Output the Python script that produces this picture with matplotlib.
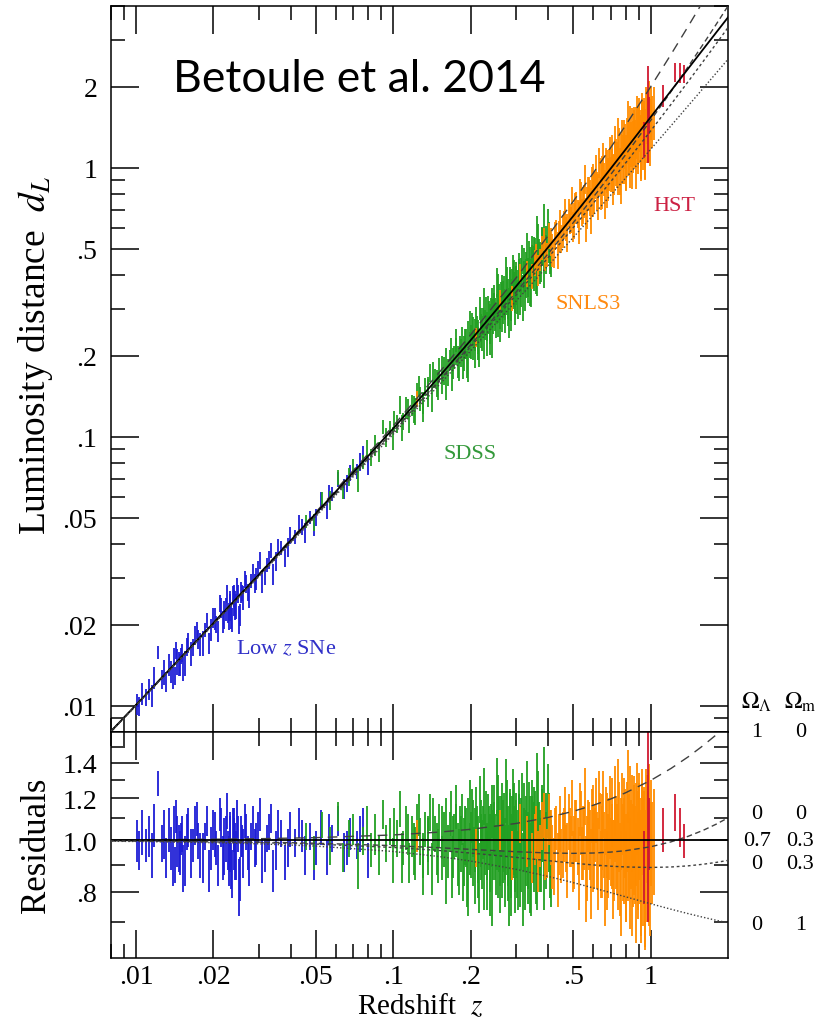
import numpy as np
import matplotlib.pyplot as plt
from matplotlib.ticker import FixedLocator, LogLocator, FuncFormatter, NullFormatter

plt.rcParams['font.family'] = ['Liberation Serif', 'DejaVu Serif']
plt.rcParams['mathtext.fontset'] = 'stix'

# model curves: luminosity distance (units of c/H0) for each (Omega_Lambda, Omega_m)
z_model = [0.008, 0.01, 0.02, 0.03, 0.05, 0.1, 0.15, 0.2, 0.3, 0.4, 0.5, 0.6, 0.7, 0.8,
           1.0, 1.2, 1.4, 1.6, 1.8, 2.0]
dl_lcdm = [0.008050, 0.010077, 0.020308, 0.030690, 0.051904, 0.107478, 0.166522, 0.228841,
           0.362552, 0.507191, 0.661478, 0.824283, 0.994619, 1.171633, 1.542854, 1.933232,
           2.339282, 2.758405, 3.188626, 3.628416]            # 0.7 0.3
dl_desitter = [0.008064, 0.0101, 0.0204, 0.0309, 0.0525, 0.11, 0.1725, 0.24, 0.39, 0.56,
               0.75, 0.96, 1.19, 1.44, 2.0, 2.64, 3.36, 4.16, 5.04, 6.0]   # 1 0
dl_milne = [0.008032, 0.01005, 0.0202, 0.03045, 0.05125, 0.105, 0.16125, 0.22, 0.345, 0.48,
            0.625, 0.78, 0.945, 1.12, 1.5, 1.92, 2.38, 2.88, 3.42, 4.0]     # 0 0
dl_open = [0.008027, 0.010042, 0.020170, 0.030381, 0.051055, 0.104187, 0.159353, 0.216508,
           0.336620, 0.464203, 0.598958, 0.740607, 0.888889, 1.043558, 1.371150, 1.721697,
           2.093693, 2.485794, 2.896789, 3.325580]          # 0 0.3
dl_eds = [0.008016, 0.010025, 0.020099, 0.030222, 0.050610, 0.102382, 0.155239, 0.209110,
          0.319649, 0.433568, 0.550510, 0.670178, 0.792319, 0.916718, 1.171573, 1.433521,
          1.701613, 1.975097, 2.253360, 2.535898]           # 0 1

# supernovae: redshift, residual (d_L relative to the 0.7/0.3 model), error
lowz_z = [0.0101, 0.0103, 0.0106, 0.0109, 0.0112, 0.0122, 0.0131, 0.0134, 0.0137, 0.0140,
          0.0142, 0.0145, 0.0148, 0.0151, 0.0155, 0.0160, 0.0166, 0.0172, 0.0178, 0.0185,
          0.0192, 0.0199, 0.0205, 0.0212, 0.0218, 0.0223, 0.0227, 0.0231, 0.0234, 0.0238,
          0.0241, 0.0245, 0.0249, 0.0253, 0.0258, 0.0265, 0.0272, 0.0280, 0.0289, 0.0298,
          0.0310, 0.0322, 0.0335, 0.0350, 0.0365, 0.0380, 0.0398, 0.0415, 0.0432, 0.0452,
          0.0475, 0.0500, 0.0525, 0.0552, 0.0580, 0.0610, 0.0645, 0.0680, 0.0720, 0.0760,
          0.0800,
          0.0115, 0.0118, 0.0126, 0.0129, 0.0139, 0.0143, 0.0147, 0.0150, 0.0153, 0.0158,
          0.0163, 0.0169, 0.0175, 0.0182, 0.0188, 0.0195, 0.0202, 0.0208, 0.0215, 0.0220,
          0.0225, 0.0229, 0.0233, 0.0236, 0.0240, 0.0243, 0.0247, 0.0251, 0.0255, 0.0261,
          0.0268, 0.0276, 0.0285, 0.0294, 0.0304, 0.0316, 0.0328, 0.0342, 0.0357, 0.0390,
          0.0440, 0.0490, 0.0565, 0.0660, 0.0740]
lowz_res = [1.00, 0.96, 1.04, 0.98, 1.02, 1.28, 0.93, 1.05, 0.97, 1.08,
            0.90, 1.00, 0.95, 1.03, 0.92, 1.06, 0.98, 1.10, 0.94, 1.02,
            0.88, 1.05, 0.97, 1.12, 0.93, 1.01, 0.96, 1.04, 0.90, 1.07,
            0.99, 0.94, 1.03, 0.85, 1.00, 1.09, 0.95, 1.02, 0.97, 1.06,
            0.92, 1.01, 1.10, 0.96, 1.03, 0.91, 1.05, 0.99, 1.08, 0.94,
            1.02, 0.97, 1.06, 0.93, 1.01, 1.09, 0.95, 1.03, 0.98, 1.07,
            0.92,
            0.94, 1.07, 0.99, 1.03, 0.91, 1.11, 0.97, 1.01, 0.89, 1.04,
            0.95, 1.07, 1.00, 0.93, 1.09, 0.97, 1.03, 0.90, 1.06, 0.98,
            1.14, 0.92, 1.00, 0.87, 1.05, 0.96, 1.10, 0.82, 1.02, 0.95,
            1.04, 0.91, 1.08, 0.99, 1.12, 0.94, 1.04, 0.88, 1.07, 0.97,
            1.02, 0.92, 1.05, 0.97, 1.03]
lowz_err = [0.09, 0.08, 0.10, 0.07, 0.09, 0.07, 0.08, 0.10, 0.09, 0.08,
            0.07, 0.11, 0.09, 0.08, 0.10, 0.09, 0.07, 0.08, 0.09, 0.06,
            0.08, 0.09, 0.07, 0.08, 0.09, 0.10, 0.08, 0.07, 0.09, 0.08,
            0.11, 0.10, 0.08, 0.08, 0.07, 0.08, 0.07, 0.06, 0.08, 0.07,
            0.09, 0.06, 0.07, 0.08, 0.06, 0.07, 0.08, 0.06, 0.07, 0.08,
            0.06, 0.07, 0.08, 0.07, 0.06, 0.07, 0.08, 0.07, 0.06, 0.08,
            0.07,
            0.09, 0.10, 0.08, 0.11, 0.09, 0.08, 0.10, 0.07, 0.09, 0.08,
            0.10, 0.09, 0.08, 0.10, 0.07, 0.09, 0.10, 0.08, 0.09, 0.12,
            0.09, 0.10, 0.13, 0.09, 0.10, 0.12, 0.09, 0.10, 0.09, 0.10,
            0.08, 0.09, 0.08, 0.09, 0.08, 0.07, 0.08, 0.08, 0.07, 0.08,
            0.07, 0.08, 0.07, 0.07, 0.08]

sdss_z = [0.046, 0.049, 0.053, 0.057, 0.061, 0.064, 0.067, 0.070, 0.073, 0.076,
          0.079, 0.082, 0.085, 0.088, 0.091, 0.094, 0.097, 0.100, 0.103, 0.106,
          0.109, 0.112, 0.115, 0.118, 0.121, 0.124, 0.127, 0.130, 0.133, 0.136,
          0.139, 0.142, 0.145, 0.148, 0.151, 0.154, 0.157, 0.160, 0.163, 0.166,
          0.169, 0.172, 0.175, 0.178, 0.181, 0.184, 0.187, 0.190, 0.193, 0.196,
          0.199, 0.202, 0.205, 0.208, 0.211, 0.214, 0.217, 0.220, 0.223, 0.226,
          0.229, 0.232, 0.235, 0.238, 0.241, 0.244, 0.247, 0.250, 0.253, 0.256,
          0.259, 0.262, 0.265, 0.268, 0.271, 0.274, 0.277, 0.280, 0.283, 0.286,
          0.289, 0.292, 0.295, 0.298, 0.301, 0.305, 0.309, 0.313, 0.317, 0.321,
          0.325, 0.329, 0.333, 0.337, 0.341, 0.345, 0.349, 0.353, 0.358, 0.363,
          0.368, 0.374, 0.380, 0.387, 0.394, 0.402, 0.410,
          0.101, 0.108, 0.114, 0.120, 0.126, 0.131, 0.137, 0.143, 0.149, 0.155,
          0.161, 0.167, 0.171, 0.176, 0.180, 0.185, 0.189, 0.192, 0.195, 0.198,
          0.201, 0.204, 0.207, 0.210, 0.213, 0.216, 0.219, 0.222, 0.225, 0.228,
          0.231, 0.234, 0.237, 0.240, 0.243, 0.246, 0.249, 0.252, 0.255, 0.258,
          0.261, 0.264, 0.267, 0.270, 0.273, 0.276, 0.279, 0.282, 0.285, 0.288,
          0.291, 0.294, 0.297, 0.300, 0.303, 0.307, 0.311, 0.315, 0.319, 0.323,
          0.327, 0.331, 0.335, 0.339, 0.343, 0.347, 0.351, 0.356, 0.361, 0.366,
          0.371, 0.377, 0.384, 0.391, 0.398, 0.406]
sdss_res = [1.02, 0.95, 1.07, 0.98, 1.11, 0.93, 1.01, 1.05, 0.90, 1.00,
            1.08, 0.96, 1.03, 0.94, 1.12, 0.99, 1.04, 0.92, 1.01, 1.15,
            0.97, 1.06, 0.91, 1.02, 0.95, 1.09, 1.00, 0.94, 1.05, 0.98,
            1.13, 0.89, 1.03, 0.97, 1.07, 0.93, 1.01, 1.10, 0.96, 1.04,
            0.90, 1.02, 1.16, 0.95, 1.06, 0.99, 0.88, 1.03, 0.85, 1.08,
            0.97, 1.12, 0.94, 1.01, 1.05, 0.91, 1.20, 0.98, 1.04, 0.87,
            1.09, 0.96, 1.02, 0.83, 1.14, 0.99, 1.06, 0.93, 1.01, 1.18,
            0.95, 1.07, 0.90, 1.03, 0.97, 1.25, 1.00, 0.92, 1.10, 0.86,
            1.05, 0.98, 1.13, 0.94, 1.02, 0.89, 1.08, 0.96, 1.19, 1.01,
            0.91, 1.06, 0.97, 1.15, 0.88, 1.04, 0.99, 1.11, 0.93, 1.28,
            1.02, 0.95, 1.08, 1.30, 0.97, 1.05, 0.92,
            1.06, 0.93, 1.03, 0.97, 1.12, 0.90, 1.01, 1.08, 0.94, 1.04,
            0.88, 1.13, 0.98, 1.05, 0.92, 1.10, 0.96, 1.02, 0.84, 1.17,
            0.99, 1.06, 0.91, 1.13, 0.97, 0.86, 1.04, 0.95, 1.22, 0.99,
            0.89, 1.08, 0.96, 1.03, 0.82, 1.11, 0.98, 1.27, 0.93, 1.04,
            0.88, 1.12, 0.97, 1.06, 0.91, 1.15, 0.99, 0.84, 1.09, 0.95,
            1.20, 1.01, 0.90, 1.07, 0.96, 1.14, 0.92, 1.04, 0.86, 1.10,
            0.98, 1.24, 0.94, 1.05, 0.90, 1.13, 0.99, 1.07, 0.92, 1.16,
            0.97, 1.09, 0.93, 1.05, 1.20, 0.96]
sdss_err = [0.06, 0.07, 0.06, 0.08, 0.07, 0.06, 0.08, 0.07, 0.09, 0.06,
            0.08, 0.07, 0.09, 0.08, 0.07, 0.08, 0.06, 0.09, 0.08, 0.09,
            0.07, 0.10, 0.08, 0.09, 0.11, 0.08, 0.10, 0.09, 0.08, 0.12,
            0.09, 0.10, 0.08, 0.11, 0.10, 0.09, 0.12, 0.10, 0.11, 0.09,
            0.12, 0.10, 0.11, 0.13, 0.10, 0.12, 0.11, 0.13, 0.10, 0.12,
            0.11, 0.13, 0.12, 0.14, 0.11, 0.13, 0.12, 0.14, 0.12, 0.13,
            0.15, 0.12, 0.14, 0.11, 0.13, 0.15, 0.12, 0.14, 0.13, 0.15,
            0.13, 0.14, 0.12, 0.16, 0.13, 0.17, 0.14, 0.15, 0.13, 0.14,
            0.16, 0.13, 0.15, 0.14, 0.17, 0.15, 0.14, 0.16, 0.15, 0.14,
            0.17, 0.15, 0.16, 0.14, 0.15, 0.17, 0.16, 0.15, 0.17, 0.18,
            0.16, 0.15, 0.17, 0.20, 0.16, 0.18, 0.17,
            0.09, 0.10, 0.09, 0.11, 0.10, 0.11, 0.10, 0.12, 0.11, 0.12,
            0.12, 0.11, 0.13, 0.12, 0.13, 0.12, 0.14, 0.13, 0.12, 0.13,
            0.14, 0.13, 0.15, 0.13, 0.14, 0.13, 0.15, 0.14, 0.15, 0.13,
            0.15, 0.14, 0.16, 0.14, 0.13, 0.16, 0.14, 0.16, 0.15, 0.17,
            0.15, 0.16, 0.14, 0.17, 0.16, 0.15, 0.17, 0.15, 0.16, 0.17,
            0.16, 0.15, 0.17, 0.16, 0.18, 0.16, 0.17, 0.16, 0.17, 0.18,
            0.16, 0.17, 0.18, 0.16, 0.18, 0.17, 0.19, 0.17, 0.18, 0.19,
            0.17, 0.18, 0.19, 0.18, 0.19, 0.18]

snls_z = [0.124, 0.21, 0.26, 0.29, 0.31, 0.33, 0.345, 0.36, 0.372, 0.385,
          0.397, 0.41, 0.42, 0.43, 0.44, 0.45, 0.46, 0.47, 0.48, 0.49,
          0.50, 0.51, 0.52, 0.53, 0.54, 0.55, 0.56, 0.57, 0.58, 0.59,
          0.60, 0.61, 0.62, 0.63, 0.64, 0.65, 0.66, 0.67, 0.68, 0.69,
          0.70, 0.71, 0.72, 0.73, 0.74, 0.75, 0.76, 0.77, 0.78, 0.79,
          0.80, 0.81, 0.82, 0.83, 0.84, 0.85, 0.86, 0.87, 0.88, 0.89,
          0.90, 0.91, 0.92, 0.93, 0.94, 0.95, 0.96, 0.97, 0.98, 0.99,
          1.00, 1.01, 1.03,
          0.355, 0.365, 0.378, 0.39, 0.403, 0.415, 0.425, 0.435, 0.445, 0.455,
          0.465, 0.475, 0.485, 0.495, 0.505, 0.515, 0.525, 0.535, 0.545, 0.555,
          0.565, 0.575, 0.585, 0.595, 0.605, 0.615, 0.625, 0.635, 0.645, 0.655,
          0.665, 0.675, 0.685, 0.695, 0.705, 0.715, 0.725, 0.735, 0.745, 0.755,
          0.765, 0.775, 0.785, 0.795, 0.805, 0.815, 0.825, 0.835, 0.845, 0.855,
          0.865, 0.875, 0.885, 0.895, 0.905, 0.915, 0.925, 0.935, 0.945, 0.955,
          0.965, 0.975, 0.985, 0.995]
snls_res = [1.02, 0.97, 1.05, 0.94, 1.08, 1.00, 0.93, 1.04, 0.98, 1.12,
            0.95, 1.02, 0.90, 1.06, 0.99, 0.94, 1.03, 0.97, 1.09, 1.00,
            0.92, 1.05, 0.98, 1.15, 0.95, 1.02, 0.86, 1.07, 0.99, 1.12,
            0.94, 1.03, 0.97, 1.20, 0.91, 1.05, 0.99, 1.10, 0.89, 1.02,
            0.96, 1.14, 0.93, 1.06, 0.98, 1.25, 0.90, 1.04, 0.97, 1.13,
            0.87, 1.08, 0.95, 1.18, 1.00, 0.84, 1.10, 0.96, 1.05, 0.92,
            1.15, 0.98, 0.88, 1.07, 1.01, 0.85, 1.12, 0.95, 1.04, 0.91,
            1.06, 0.97, 1.02,
            1.01, 0.92, 1.07, 0.97, 1.10, 0.94, 1.03, 0.89, 1.08, 0.99,
            1.13, 0.93, 1.02, 1.16, 0.96, 1.05, 0.90, 1.09, 1.00, 1.22,
            0.94, 1.03, 0.88, 1.11, 0.99, 1.15, 0.92, 1.06, 0.97, 1.18,
            0.87, 1.04, 0.95, 1.12, 0.99, 0.90, 1.20, 1.01, 0.93, 1.08,
            0.85, 1.14, 0.98, 1.05, 0.91, 1.28, 1.00, 0.89, 1.10, 0.96,
            1.03, 0.86, 1.17, 0.99, 1.06, 0.90, 1.13, 0.94, 1.02, 0.88,
            1.08, 0.97, 1.15, 0.92]
snls_err = [0.07, 0.08, 0.09, 0.10, 0.09, 0.11, 0.10, 0.12, 0.09, 0.11,
            0.10, 0.12, 0.11, 0.10, 0.13, 0.11, 0.12, 0.10, 0.13, 0.11,
            0.12, 0.14, 0.12, 0.13, 0.11, 0.14, 0.16, 0.12, 0.15, 0.13,
            0.14, 0.12, 0.16, 0.15, 0.13, 0.17, 0.14, 0.16, 0.15, 0.18,
            0.14, 0.17, 0.16, 0.15, 0.19, 0.17, 0.18, 0.16, 0.20, 0.18,
            0.17, 0.21, 0.18, 0.20, 0.19, 0.18, 0.22, 0.20, 0.23, 0.21,
            0.19, 0.22, 0.24, 0.21, 0.23, 0.22, 0.24, 0.25, 0.20, 0.22,
            0.24, 0.21, 0.23,
            0.11, 0.12, 0.11, 0.13, 0.12, 0.13, 0.12, 0.14, 0.13, 0.14,
            0.13, 0.15, 0.13, 0.14, 0.15, 0.14, 0.16, 0.15, 0.16, 0.15,
            0.17, 0.15, 0.17, 0.16, 0.18, 0.16, 0.18, 0.17, 0.19, 0.17,
            0.18, 0.19, 0.17, 0.20, 0.18, 0.19, 0.18, 0.20, 0.19, 0.21,
            0.19, 0.20, 0.22, 0.20, 0.21, 0.20, 0.22, 0.21, 0.23, 0.21,
            0.24, 0.22, 0.23, 0.25, 0.22, 0.24, 0.23, 0.25, 0.24, 0.26,
            0.25, 0.27, 0.24, 0.26]

hst_z = [0.94, 0.973, 0.99, 1.12, 1.24, 1.30, 1.35]
hst_res = [0.90, 1.15, 1.04, 1.05, 1.13, 1.06, 1.00]
hst_err = [0.14, 0.45, 0.16, 0.10, 0.09, 0.09, 0.075]

samples = [
    (lowz_z, lowz_res, lowz_err, '#1c1cd6'),
    (sdss_z, sdss_res, sdss_err, '#22a022'),
    (snls_z, snls_res, snls_err, '#ff8c00'),
    (hst_z, hst_res, hst_err, '#d01830'),
]

models = [
    (dl_desitter, (0, (7, 5)), '1', '0'),
    (dl_milne, (0, (4, 2.5)), '0', '0'),
    (dl_lcdm, '-', '0.7', '0.3'),
    (dl_open, (0, (2, 2)), '0', '0.3'),
    (dl_eds, (0, (1, 1.5)), '0', '1'),
]


def short_label(v, pos):
    s = f"{v:g}"
    return s[1:] if s.startswith("0.") else s


def res_label(v, pos):
    s = f"{v:.1f}"
    return s[1:] if s.startswith("0.") else s


fig = plt.figure(figsize=(8.31, 10.2), dpi=100)
ax = fig.add_axes([0.1336, 0.2814, 0.7425, 0.7118])
axr = fig.add_axes([0.1336, 0.0598, 0.7425, 0.2216], sharex=ax)

zm = np.array(z_model)
ref = np.array(dl_lcdm)

for zs, res, err, col in samples:
    zs = np.array(zs)
    res = np.array(res)
    err = np.array(err)
    dl = 10 ** np.interp(np.log10(zs), np.log10(zm), np.log10(ref))
    ax.vlines(zs, dl * (res - err), dl * (res + err), colors=col, lw=1.3, zorder=2)
    axr.vlines(zs, res - err, res + err, colors=col, lw=1.3, zorder=2)

for dl, ls, ol, om in models:
    solid = ls == '-'
    c = 'black' if solid else '#404040'
    w = 1.3 if solid else 1.0
    ax.plot(zm, dl, color=c, ls=ls, lw=w, zorder=3)
    axr.plot(zm, np.array(dl) / ref, color=c, ls=ls, lw=w, zorder=3)

ax.set_xscale('log')
ax.set_yscale('log')
axr.set_yscale('log')
ax.set_xlim(0.008, 2.0)
ax.set_ylim(0.008, 4.0)
axr.set_ylim(0.6, 1.6)

ax.xaxis.set_major_locator(FixedLocator([0.01, 0.02, 0.05, 0.1, 0.2, 0.5, 1]))
ax.xaxis.set_minor_locator(LogLocator(base=10, subs=(3, 4, 6, 7, 8, 9), numticks=20))
ax.xaxis.set_major_formatter(FuncFormatter(short_label))
ax.xaxis.set_minor_formatter(NullFormatter())

ax.yaxis.set_major_locator(FixedLocator([0.01, 0.02, 0.05, 0.1, 0.2, 0.5, 1, 2]))
ax.yaxis.set_minor_locator(LogLocator(base=10, subs=(3, 4, 6, 7, 8, 9), numticks=20))
ax.yaxis.set_major_formatter(FuncFormatter(short_label))
ax.yaxis.set_minor_formatter(NullFormatter())

axr.yaxis.set_major_locator(FixedLocator([0.8, 1.0, 1.2, 1.4]))
axr.yaxis.set_minor_locator(FixedLocator([0.7, 0.9, 1.1, 1.3, 1.5]))
axr.yaxis.set_major_formatter(FuncFormatter(res_label))
axr.yaxis.set_minor_formatter(NullFormatter())

for a in (ax, axr):
    a.tick_params(which='both', direction='in', top=True, right=True, width=1.1,
                  labelsize=20, pad=10)
    a.tick_params(which='major', length=20)
    a.tick_params(which='minor', length=10)
    for sp in a.spines.values():
        sp.set_linewidth(1.1)
ax.tick_params(labelbottom=False)
axr.tick_params(axis='x', pad=4)

fig.text(36 / 831, 1 - 355 / 1020, r'Luminosity distance  $d_L$', rotation=90,
         ha='center', va='center', fontsize=27)
fig.text(36 / 831, 1 - 845 / 1020, 'Residuals', rotation=90,
         ha='center', va='center', fontsize=25)
fig.text(420 / 831, 1 - 1006 / 1020, r'Redshift  $z$', ha='center', va='center', fontsize=21)

ax.text(0.0245, 0.0164, r'Low $z$ SNe', color='#3030c8', fontsize=16, ha='left', va='center')
ax.text(0.198, 0.0866, 'SDSS', color='#33993a', fontsize=16, ha='center', va='center')
ax.text(0.574, 0.313, 'SNLS3', color='#ff8a10', fontsize=16, ha='center', va='center')
ax.text(1.24, 0.726, 'HST', color='#cc2244', fontsize=16, ha='center', va='center')

# Omega labels at the right of the residual panel
tr = axr.get_yaxis_transform()
axr.text(1.047, 1.83, r'$\Omega_\Lambda$', transform=tr, ha='center', va='center',
         fontsize=17, clip_on=False)
axr.text(1.117, 1.83, r'$\Omega_{\rm m}$', transform=tr, ha='center', va='center',
         fontsize=17, clip_on=False)
row_y = [1.6, 1.123, 1.0, 0.906, 0.694]
for (dl, ls, ol, om), yv in zip(models, row_y):
    axr.text(1.047, yv, ol, transform=tr, ha='center', va='center', fontsize=16, clip_on=False)
    axr.text(1.117, yv, om, transform=tr, ha='center', va='center', fontsize=16, clip_on=False)

fig.text(173 / 831, 1 - 92 / 1020, 'Betoule et al. 2014', family='Lato', fontsize=32,
         va='baseline', ha='left')

fig.savefig('out.png', dpi=100, facecolor='white')
